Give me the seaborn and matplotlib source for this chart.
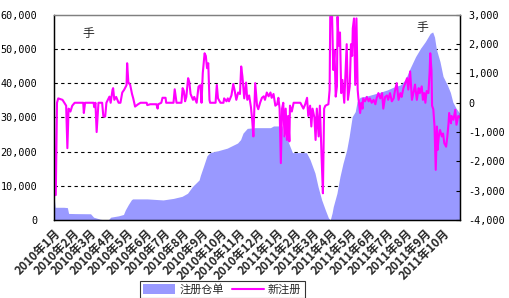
import matplotlib
matplotlib.use("Agg")
import matplotlib.pyplot as plt
from matplotlib.ticker import FuncFormatter
from matplotlib.patches import Patch
from matplotlib.lines import Line2D
import numpy as np
import pandas as pd
import seaborn as sns

# ---- data (days since 2010-01-01) ----
area_day = [0, 2, 16, 22, 24, 35, 60, 65, 76, 83, 89, 93, 106, 114, 117, 122, 127, 129,
            153, 179, 196, 210, 219, 227, 238, 240, 245, 251, 256, 268, 284, 301, 306,
            310, 317, 330, 355, 360, 374, 376, 382, 387, 391, 414, 420, 428, 433, 439,
            445, 450, 453, 456, 458, 464, 469, 474, 480, 484, 489, 494, 497, 502, 514,
            530, 546, 556, 568, 576, 584, 593, 601, 609, 617, 621, 624, 627, 633, 638,
            645, 650, 654, 659, 666]
area_value = [7000, 3700, 3700, 3600, 1900, 1850, 1800, 800, 200, 0, 0, 800, 1200, 1600,
              2900, 4500, 5900, 6150, 6150, 5850, 6300, 6900, 7800, 9750, 11700, 13000,
              15600, 18800, 19700, 20200, 21000, 22500, 23500, 25400, 26800, 27000, 27000,
              27500, 27500, 24900, 23900, 21500, 19700, 19700, 17600, 13700, 9750, 5850,
              2900, 600, 0, 2000, 3900, 7800, 12700, 16600, 20500, 24400, 30200, 31700,
              34600, 35900, 36300, 37100, 38000, 38800, 39500, 41000, 44400, 47800, 50200,
              52200, 54600, 55000, 53500, 50000, 46300, 42000, 39500, 37300, 34500, 32800,
              31000]

line_day = [0, 1, 3, 5, 7, 14, 17, 20, 22, 24, 27, 30, 34, 48, 49, 51, 65, 66, 68, 70,
            73, 79, 81, 84, 86, 91, 93, 96, 97, 99, 102, 106, 109, 112, 115, 119, 120,
            122, 125, 128, 130, 133, 138, 142, 152, 153, 158, 168, 170, 171, 176, 178,
            183, 184, 196, 198, 201, 209, 211, 213, 215, 217, 220, 222, 224, 228, 230,
            234, 237, 240, 242, 244, 247, 249, 251, 253, 255, 256, 265, 267, 269, 273,
            278, 279, 283, 285, 287, 291, 294, 296, 299, 302, 305, 307, 309, 312, 315,
            317, 320, 323, 325, 327, 330, 333, 335, 338, 341, 344, 346, 349, 352, 355,
            357, 360, 363, 366, 368, 370, 372, 374, 376, 378, 380, 382, 384, 386, 387,
            390, 393, 404, 409, 412, 415, 417, 420, 422, 424, 427, 429, 431, 434, 436,
            438, 439, 441, 443, 445, 450, 452, 453, 456, 458, 460, 462, 464, 465, 467,
            469, 471, 473, 476, 478, 480, 482, 485, 487, 489, 490, 492, 494, 496, 498,
            499, 502, 504, 506, 507, 510, 513, 516, 518, 521, 524, 527, 529, 532, 535,
            538, 540, 543, 546, 548, 551, 554, 557, 559, 562, 565, 568, 570, 573, 576,
            579, 581, 584, 587, 590, 592, 595, 598, 600, 603, 605, 607, 609, 611, 614,
            616, 617, 619, 620, 622, 624, 626, 628, 629, 631, 633, 636, 638, 640, 643,
            645, 647, 648, 651, 652, 655, 658, 660, 663, 666]
line_value = [0, -3150, -3150, 0, 150, 100, 0, -100, -1550, -200, -300, -100, 0, 0, -350,
              0, 0, -150, 0, -1000, 0, 0, -470, -470, 0, 210, 0, 440, 500, 100, 200, 0,
              0, 350, 440, 600, 1350, 700, 610, 300, 150, -130, -50, 0, 0, -80, -50, -50,
              -200, -50, 0, 170, 170, 0, 0, 460, 0, 0, 500, 400, 50, 200, 840, 700, 300,
              100, 200, 0, 550, 600, 0, 1010, 1690, 1600, 1180, 1350, 100, 0, 0, 610, 150,
              0, 0, 150, 50, 150, 50, 250, 640, 450, 100, 350, 300, 1240, 900, 150, 690,
              100, 250, -150, -580, -1150, 670, -100, -220, 0, 170, 220, 100, 350, 220,
              350, 170, 300, -100, -50, 170, -200, -2060, -200, 0, -1150, -200, -1270,
              -450, -1320, -100, -300, 0, 0, -200, -50, 170, -450, -100, -810, -200, -500,
              -1270, -200, -1150, -100, -1380, -1950, -3090, -200, -100, -50, 440, 2940,
              3000, 1120, 1800, 210, 560, 2940, 1950, 2400, 330, 780, 0, 1020, 2000, 100,
              560, 2000, 1600, 2540, 2880, 610, 2880, 440, 200, -350, 0, -200, 150, 50,
              200, 50, 150, 0, 100, -50, 150, 330, 150, 330, -200, 200, 250, 100, 330, 50,
              150, 400, 670, 100, 330, 200, 500, 670, 840, 450, 1070, 100, 400, 620, 100,
              500, 330, 560, 100, 330, 0, 400, 330, 1070, 1690, 1100, -100, -220, -810,
              -2290, -810, -1610, -1150, -930, -1150, -1050, -1380, -1500, -1150, -700,
              -350, -700, -450, -580, -240, -750, -450, -500]

tick_months = ["2010-01-01", "2010-02-01", "2010-03-01", "2010-04-01", "2010-05-01",
               "2010-06-01", "2010-07-01", "2010-08-01", "2010-09-01", "2010-10-01",
               "2010-11-01", "2010-12-01", "2011-01-01", "2011-02-01", "2011-03-01",
               "2011-04-01", "2011-05-01", "2011-06-01", "2011-07-01", "2011-08-01",
               "2011-09-01", "2011-10-01"]
tick_labels = ["2010年1月", "2010年2月", "2010年3月", "2010年4月", "2010年5月", "2010年6月",
               "2010年7月", "2010年8月", "2010年9月", "2010年10月", "2010年11月", "2010年12月",
               "2011年1月", "2011年2月", "2011年3月", "2011年4月", "2011年5月", "2011年6月",
               "2011年7月", "2011年8月", "2011年9月", "2011年10月"]
series_names = ["注册仓单", "新注册"]
unit_label = "手"

base = pd.Timestamp("2010-01-01")
area_dates = base + pd.to_timedelta(area_day, unit="D")
line_df = pd.DataFrame({"date": base + pd.to_timedelta(line_day, unit="D"),
                        "value": line_value})

sns.set_theme(style="white")
plt.rcParams["font.family"] = ["Noto Sans CJK SC", "DejaVu Sans"]

AREA_C = "#9999FF"
LINE_C = "#FF00FF"
MONO = "DejaVu Sans Mono"

fig = plt.figure(figsize=(5.09, 2.98), dpi=100)
ax = fig.add_axes([0.106, 0.262, 0.798, 0.688])

ax.fill_between(area_dates, area_value, 0, color=AREA_C, lw=0, zorder=1)
ax.set_ylim(0, 60000)
ax.set_yticks(range(0, 60001, 10000))
ax.yaxis.set_major_formatter(FuncFormatter(lambda v, p: f"{int(v):,}"))
ax.set_xlim(base, base + pd.Timedelta(days=666))
ax.grid(axis="y", color="black", ls=(0, (3, 3)), lw=0.8)
ax.grid(axis="x", visible=False)
ax.set_axisbelow(True)
ax.get_ygridlines()[-1].set_visible(False)
ax.get_ygridlines()[0].set_visible(False)

ax.set_xticks(pd.to_datetime(tick_months))
ax.set_xticklabels(tick_labels, rotation=45, ha="right", va="top",
                   rotation_mode="anchor", fontsize=8.5, fontweight="bold")
ax.tick_params(axis="x", direction="in", length=3, width=0.8, color="black", pad=5)
ax.tick_params(axis="y", length=0, pad=12, labelcolor="black")
for t in ax.get_yticklabels():
    t.set_fontfamily(MONO)
    t.set_fontsize(7.3)

ax2 = ax.twinx()
sns.lineplot(data=line_df, x="date", y="value", ax=ax2, color=LINE_C, lw=1.5,
             estimator=None, legend=False)
ax2.set_ylim(-4000, 3000)
ax2.set_yticks(range(-4000, 3001, 1000))
ax2.yaxis.set_major_formatter(FuncFormatter(lambda v, p: f"{int(v):,}"))
ax2.tick_params(axis="y", direction="in", length=3, width=0.8, pad=6,
                color="black", labelcolor="black")
for t in ax2.get_yticklabels():
    t.set_fontfamily(MONO)
    t.set_fontsize(7.3)
ax2.set_xlim(base, base + pd.Timedelta(days=666))
ax.set_xlabel("")
ax.set_ylabel("")
ax2.set_xlabel("")
ax2.set_ylabel("")

for a in (ax, ax2):
    for s in ("left", "bottom", "right"):
        a.spines[s].set_color("black")
        a.spines[s].set_linewidth(0.9)
    a.spines["top"].set_color("#808080")
    a.spines["top"].set_linewidth(0.9)

fig.text(88 / 509, 1 - 33 / 298, unit_label, fontsize=8.5, ha="center", va="center")
fig.text(422 / 509, 1 - 28 / 298, unit_label, fontsize=8.5, ha="center", va="center")

handles = [Patch(facecolor=AREA_C, edgecolor="none"),
           Line2D([0], [0], color=LINE_C, lw=1.5)]
leg = fig.legend(handles, series_names, loc="upper center", bbox_to_anchor=(0.437, 0.058),
                 ncol=2, frameon=True, fancybox=False, fontsize=8, handlelength=2.8,
                 handleheight=0.9, borderpad=0.3, columnspacing=0.8, handletextpad=0.4,
                 borderaxespad=0)
leg.get_frame().set_edgecolor("black")
leg.get_frame().set_linewidth(0.8)

fig.savefig("out.png", dpi=100)
